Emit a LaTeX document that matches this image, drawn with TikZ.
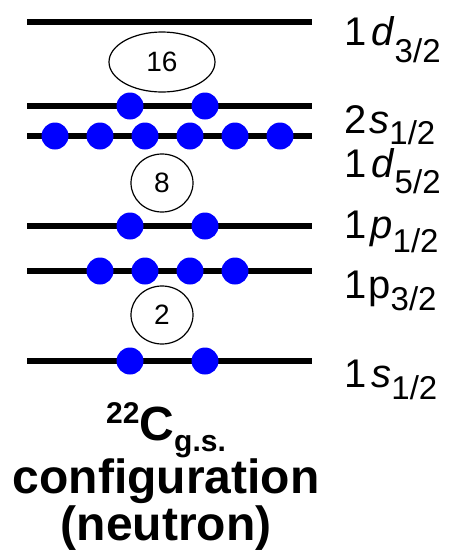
\documentclass[tikz,border=0pt]{standalone}
\usepackage{fontspec}
\setmainfont{Liberation Sans}
\usetikzlibrary{shapes.geometric}
\begin{document}
\begin{tikzpicture}[x=1pt,y=-1pt,
  level/.style={line width=6pt},
  electron/.style={circle,fill=blue,inner sep=0pt,minimum size=27pt},
  shellnum/.style={ellipse,draw,line width=1.2pt,inner sep=0pt,font=\fontsize{28}{28}\selectfont},
  lab/.style={anchor=base west,inner sep=0pt,font=\fontsize{40}{40}\selectfont},
  title/.style={anchor=base,inner sep=0pt,font=\fontsize{48}{48}\selectfont\bfseries}]
\useasboundingbox (0,0) rectangle (451,560);
% levels
\foreach \n/\y in {d3/22, s2/106, d5/136, p1/226, p3/271, s1/361}{
  \coordinate (\n L) at (27,\y);
  \coordinate (\n R) at (312,\y);
  \draw[level] (\n L) -- (\n R);
}
% electrons
\foreach \x [count=\i] in {130,205}{
  \node[electron] (es2\i) at (\x,106) {};
  \node[electron] (ep1\i) at (\x,226) {};
  \node[electron] (es1\i) at (\x,361) {};
}
\foreach \x [count=\i] in {55,100,145,190,235,280}{
  \node[electron] (ed5\i) at (\x,136) {};
}
\foreach \x [count=\i] in {100,145,190,235}{
  \node[electron] (ep3\i) at (\x,271) {};
}
% shell closures
\node[shellnum,minimum width=106pt,minimum height=60pt] (m16) at (162,62) {16};
\node[shellnum,minimum width=62pt,minimum height=58pt] (m8) at (162,183) {8};
\node[shellnum,minimum width=62pt,minimum height=58pt] (m2) at (162,315) {2};
% labels
\newcommand{\sbs}[2][-14pt]{\raisebox{#1}{\fontsize{33}{33}\selectfont #2}}
\node[lab] (l1) at (344,45) {1\hspace{5pt}\textit{d}\sbs[-17pt]{3/2}};
\node[lab] (l2) at (344,133) {2\hspace{3pt}\textit{s}\sbs[-11pt]{1/2}};
\node[lab] (l3) at (344,177) {1\hspace{5pt}\textit{d}\sbs[-16pt]{5/2}};
\node[lab] (l4) at (344,238) {1\hspace{4pt}\textit{p}\sbs{1/2}};
\node[lab] (l5) at (344,298) {1\hspace{2pt}p\sbs[-12pt]{3/2}};
\node[lab] (l6) at (344,387) {1\hspace{5pt}\textit{s}\sbs[-12pt]{1/2}};
% title
\node[title] (t1) at (166,440) {\raisebox{17pt}{\fontsize{30}{30}\selectfont 22}C\raisebox{-11pt}{\fontsize{30}{30}\selectfont g.s.}};
\node[title] (t2) at (166,493) {configuration};
\node[title] (t3) at (166,540) {(neutron)};
\end{tikzpicture}
\end{document}
